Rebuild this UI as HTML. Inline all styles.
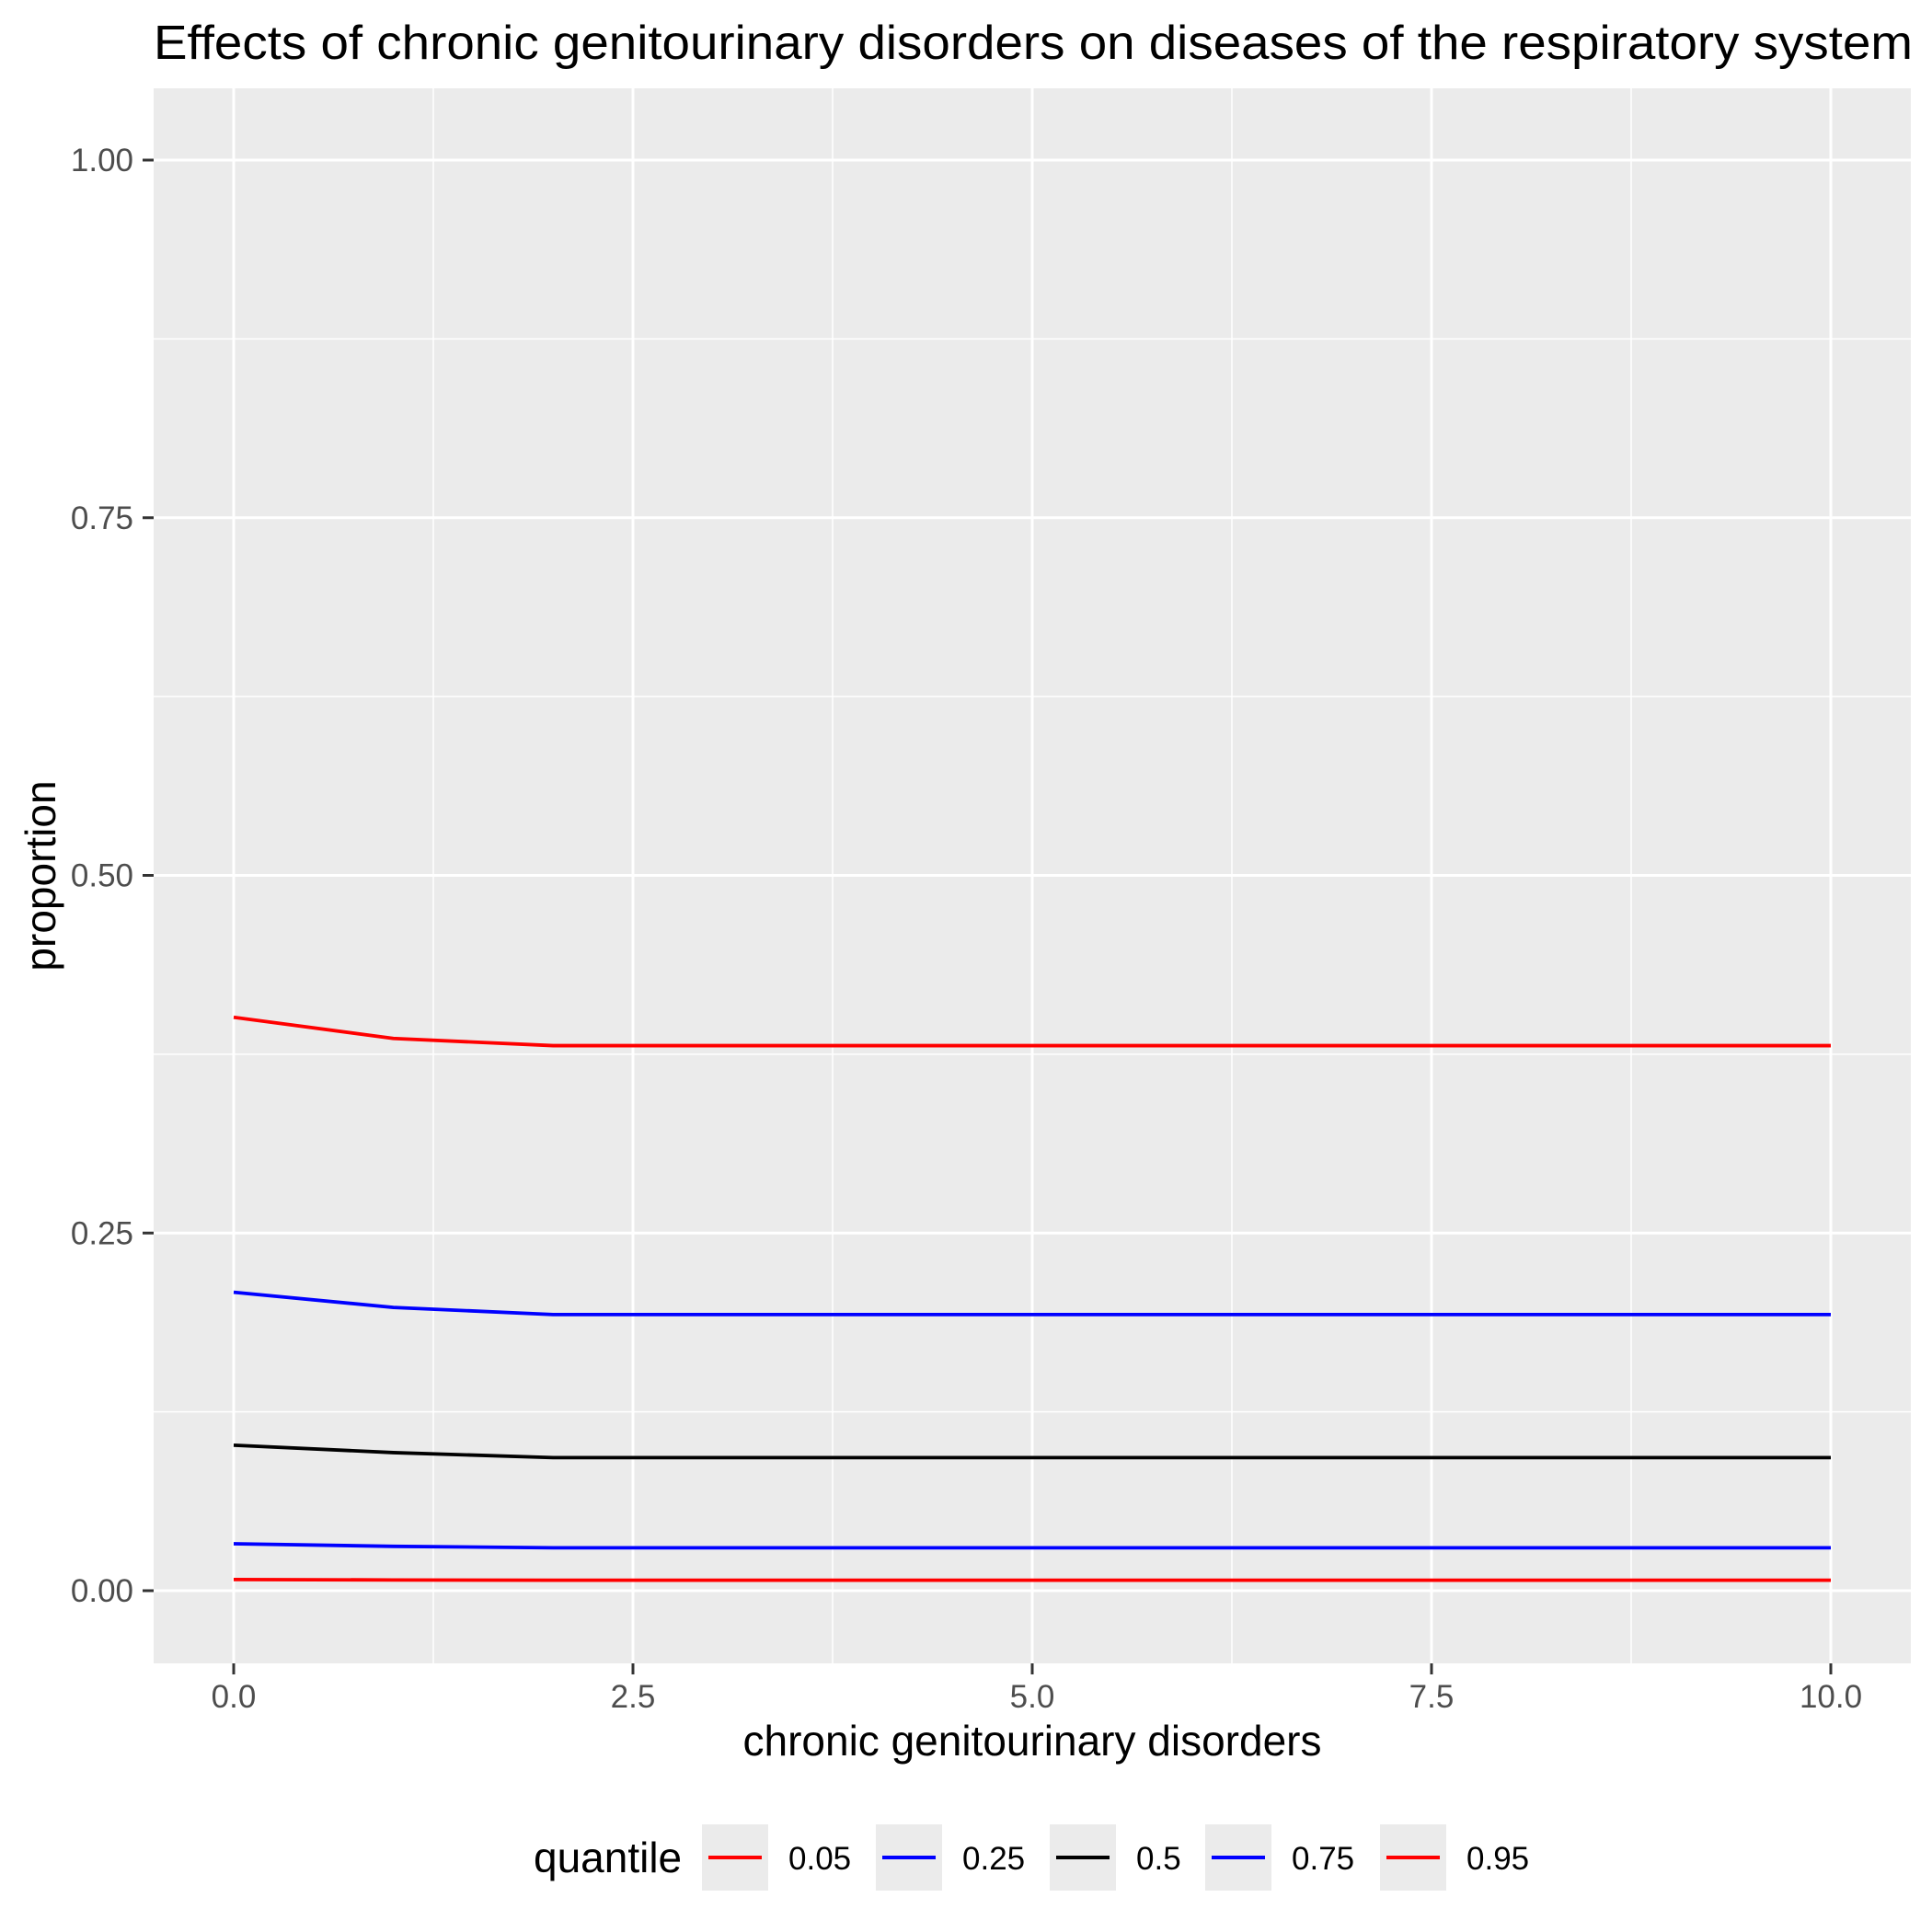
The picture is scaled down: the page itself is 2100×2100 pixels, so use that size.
<!DOCTYPE html>
<html><head><meta charset="utf-8"><style>
html,body{margin:0;padding:0;background:#fff;}
svg{display:block;font-family:"Liberation Sans",Arial,sans-serif;}
</style></head><body>
<svg id="chart" width="2100" height="2100" viewBox="0 0 2100 2100" xmlns="http://www.w3.org/2000/svg">
<text x="167" y="64" font-size="52" fill="#000" textLength="1912" lengthAdjust="spacingAndGlyphs">Effects of chronic genitourinary disorders on diseases of the respiratory system</text>
<rect x="167" y="96" width="1910" height="1712" fill="#ebebeb"/>
<g id="grid"></g>
<g id="series"></g>
<g id="axes"></g>
<text x="1122" y="1908" font-size="46" text-anchor="middle" fill="#000">chronic genitourinary disorders</text>
<text transform="translate(60,952) rotate(-90)" font-size="46" text-anchor="middle" fill="#000">proportion</text>
<text x="580" y="2035" font-size="46" fill="#000">quantile</text>
<g id="legend"></g>
</svg>
<script>
const xs = [0,1,2,3,4,5,6,7,8,9,10];
const quantiles = ["0.05","0.25","0.5","0.75","0.95"];
const colors = ["#ff0000","#0000ff","#000000","#0000ff","#ff0000"];
const q05 = [0.0078,0.0075,0.0073,0.0073,0.0073,0.0073,0.0073,0.0073,0.0073,0.0073,0.0073];
const q25 = [0.0328,0.031,0.030,0.030,0.030,0.030,0.030,0.030,0.030,0.030,0.030];
const q50 = [0.1017,0.0965,0.093,0.093,0.093,0.093,0.093,0.093,0.093,0.093,0.093];
const q75 = [0.2086,0.198,0.193,0.193,0.193,0.193,0.193,0.193,0.193,0.193,0.193];
const q95 = [0.4008,0.386,0.381,0.381,0.381,0.381,0.381,0.381,0.381,0.381,0.381];
const xTicks = [0,2.5,5,7.5,10];
const xTickLabels = ["0.0","2.5","5.0","7.5","10.0"];
const yTicks = [0,0.25,0.5,0.75,1];
const yTickLabels = ["0.00","0.25","0.50","0.75","1.00"];

const NS="http://www.w3.org/2000/svg";
const X = v => 254 + v*173.6;
const Y = v => 1729 - v*1555;
function mk(tag, attrs, parent){const e=document.createElementNS(NS,tag);for(const k in attrs)e.setAttribute(k,attrs[k]);parent.appendChild(e);return e;}
const grid=document.getElementById('grid'), axes=document.getElementById('axes'), ser=document.getElementById('series'), leg=document.getElementById('legend');
for(let i=0;i<yTicks.length-1;i++){const v=(yTicks[i]+yTicks[i+1])/2;const l=mk('line',{x1:167,x2:2077,y1:Y(v),y2:Y(v),stroke:'#fff','stroke-width':1.5},grid);

}
for(let i=0;i<xTicks.length-1;i++){const v=(xTicks[i]+xTicks[i+1])/2;const l=mk('line',{x1:X(v),x2:X(v),y1:96,y2:1808,stroke:'#fff','stroke-width':1.5},grid);

}
yTicks.forEach((v,i)=>{const l=mk('line',{x1:167,x2:2077,y1:Y(v),y2:Y(v),stroke:'#fff','stroke-width':3},grid);


const t=mk('line',{x1:155,x2:167,y1:Y(v),y2:Y(v),stroke:'#333','stroke-width':3},axes);


const tx=mk('text',{x:145,y:Y(v)+12,'font-size':35,'text-anchor':'end',fill:'#4d4d4d'},axes);tx.textContent=yTickLabels[i];

});
xTicks.forEach((v,i)=>{const l=mk('line',{x1:X(v),x2:X(v),y1:96,y2:1808,stroke:'#fff','stroke-width':3},grid);


const t=mk('line',{x1:X(v),x2:X(v),y1:1808,y2:1820,stroke:'#333','stroke-width':3},axes);


const tx=mk('text',{x:X(v),y:1856,'font-size':35,'text-anchor':'middle',fill:'#4d4d4d'},axes);tx.textContent=xTickLabels[i];

});
const seriesData=[q05,q25,q50,q75,q95];
seriesData.forEach((d,i)=>{const p=mk('polyline',{points:xs.map((x,j)=>X(x)+','+Y(d[j])).join(' '),fill:'none',stroke:colors[i],'stroke-width':3.8,'stroke-linejoin':'round'},ser);

});
const boxX=[763,952,1141,1310,1500];
quantiles.forEach((q,i)=>{const g=mk('g',{},leg);


mk('rect',{x:boxX[i],y:1983,width:72,height:72,fill:'#ebebeb'},g);
mk('line',{x1:boxX[i]+7,x2:boxX[i]+65,y1:2019,y2:2019,stroke:colors[i],'stroke-width':4},g);
const t=mk('text',{x:boxX[i]+94,y:2032,'font-size':35,fill:'#000'},g);t.textContent=q;});
</script>
</body></html>
